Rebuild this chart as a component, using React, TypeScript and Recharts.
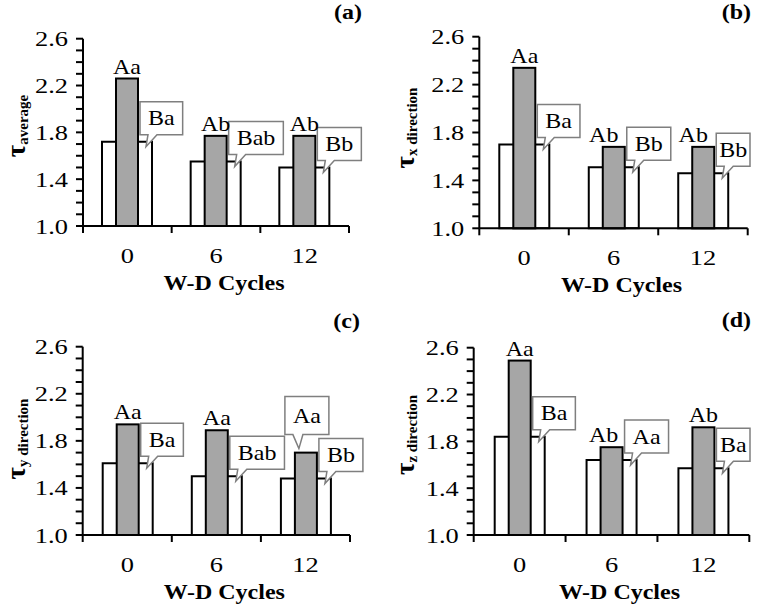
import React from 'react';
import { BarChart, Bar, XAxis, YAxis, LabelList, Label } from 'recharts';

// W-D cycle categories and y ticks (every 0.1, labels on every 0.4)
const cycles = ['0', '6', '12'];
const yTicks = [1.0, 1.1, 1.2, 1.3, 1.4, 1.5, 1.6, 1.7, 1.8, 1.9, 2.0, 2.1, 2.2, 2.3, 2.4, 2.5, 2.6];
const yMajor = [1.0, 1.4, 1.8, 2.2, 2.6];

// white bars (B) and gray bars (A)
const whiteAvg = [1.72, 1.55, 1.5];
const grayAvg = [2.26, 1.77, 1.77];
const whiteX = [1.7, 1.51, 1.46];
const grayX = [2.34, 1.68, 1.68];
const whiteY = [1.61, 1.5, 1.48];
const grayY = [1.94, 1.89, 1.7];
const whiteZ = [1.84, 1.64, 1.57];
const grayZ = [2.49, 1.75, 1.92];

// significance letters
const grayLetA = ['Aa', 'Ab', 'Ab'];
const whiteLetA = ['Ba', 'Bab', 'Bb'];
const grayLetB = ['Aa', 'Ab', 'Ab'];
const whiteLetB = ['Ba', 'Bb', 'Bb'];
const grayLetC = ['Aa', 'Aa', 'Aa'];
const whiteLetC = ['Ba', 'Bab', 'Bb'];
const grayLetD = ['Aa', 'Ab', 'Ab'];
const whiteLetD = ['Ba', 'Aa', 'Ba'];

const SERIF = 'Liberation Serif, Times New Roman, serif';
const SX = 1.2; // the original figure is a bit stretched sideways
const W = 381;
const H = 305;
const YW = 50;
const XH = 30;
const WB = 50; // white bar width
const GB = 22; // gray bar width (drawn centred inside the white bar's slot)

const charW: Record<string, number> = { A: 0.722, B: 0.667, a: 0.444, b: 0.5 };
const textW = (s: string, size: number) =>
  s.split('').reduce((t, c) => t + (charW[c] ?? 0.5), 0) * size * SX;

function SText({ x, y, size, bold, anchor, children }: any) {
  return (
    <text
      transform={`translate(${x},${y}) scale(${SX},1)`}
      x={0}
      y={0}
      textAnchor={anchor || 'middle'}
      style={{ fontFamily: SERIF, fontSize: size, fontWeight: bold ? 700 : 400 }}
      fill="#000"
    >
      {children}
    </text>
  );
}

const GrayShape = (props: any) => {
  const { x, y, width, height } = props;
  const nx = Number(x) + (Number(width) - GB) / 2;
  return <rect x={nx} y={y} width={GB} height={height} fill="#a6a6a6" stroke="#000" strokeWidth={2} />;
};

const WhiteCallout = (props: any) => {
  const { x, y, width, value } = props;
  const cx = Number(x) + Number(width) / 2;
  const top = Number(y);
  const s = String(value);
  const left = cx + 13;
  const w = Math.min(textW(s, 20) + 16, W - 12 - left);
  const h = 33;
  const bottom = top - 7;
  const boxTop = bottom - h;
  const d = `M${left},${boxTop} H${left + w} V${bottom} H${left + 17} L${left + 6},${top + 5} L${left + 8},${bottom} H${left} Z`;
  return (
    <g>
      <path d={d} fill="#fff" stroke="#7f7f7f" strokeWidth={1.5} />
      <SText x={left + w / 2} y={boxTop + h / 2 + 7} size={20}>{s}</SText>
    </g>
  );
};

const makeGrayLabel = (boxed: number, shift: number[]) => (props: any) => {
  const { x, y, width, value, index } = props;
  const cx = Number(x) + Number(width) / 2;
  const top = Number(y);
  const s = String(value);
  if (index === boxed) {
    const w = textW(s, 20) + 16;
    const h = 38;
    const left = cx - 21;
    const bottom = top - 18;
    const boxTop = bottom - h;
    const d = `M${left},${boxTop} H${left + w} V${bottom} H${left + 18} L${left + 14},${top - 4} L${left + 8},${bottom} H${left} Z`;
    return (
      <g>
        <path d={d} fill="#fff" stroke="#7f7f7f" strokeWidth={1.5} />
        <SText x={left + w / 2} y={boxTop + h / 2 + 7} size={20}>{s}</SText>
      </g>
    );
  }
  return <SText x={cx + (shift[index] || 0)} y={top - 5} size={20}>{s}</SText>;
};

const YTick = (props: any) => {
  const { x, y, payload } = props;
  const v = Number(payload.value);
  if (!yMajor.some((m) => Math.abs(m - v) < 1e-6)) return null;
  return (
    <SText x={Number(x) - 6} y={Number(y) + 7.5} size={22} anchor="end">
      {v.toFixed(1)}
    </SText>
  );
};

const makeXTick = (axisY: number, half: number) => (props: any) => {
  const { x, payload, index } = props;
  const off = payload && payload.offset ? Number(payload.offset) : half;
  const cx = Number(x);
  return (
    <g>
      <line x1={cx - off} x2={cx - off} y1={axisY} y2={axisY + 7} stroke="#000" strokeWidth={2} />
      {index === cycles.length - 1 && (
        <line x1={cx + off} x2={cx + off} y1={axisY} y2={axisY + 7} stroke="#000" strokeWidth={2} />
      )}
      <SText x={cx} y={axisY + 37} size={22}>{payload.value}</SText>
    </g>
  );
};

type PanelCfg = {
  px: number;
  py: number;
  left: number;
  right: number;
  top: number;
  bottom: number;
  white: number[];
  gray: number[];
  whiteLet: string[];
  grayLet: string[];
  sub: string;
  tag: string;
  labX: number;
  labY: number;
  tagX: number;
  tagY: number;
  boxed: number;
  shift: number[];
};

const panels: PanelCfg[] = [
  { px: 0, py: 0, left: 83, right: 349, top: 38.7, bottom: 226, white: whiteAvg, gray: grayAvg, whiteLet: whiteLetA, grayLet: grayLetA, sub: 'average', tag: '(a)', labX: 25, labY: 126, tagX: 362, tagY: 19, boxed: -1, shift: [0, 0, 0] },
  { px: 381, py: 0, left: 98.3, right: 366.7, top: 36.7, bottom: 228.3, white: whiteX, gray: grayX, whiteLet: whiteLetB, grayLet: grayLetB, sub: 'x direction', tag: '(b)', labX: 33, labY: 128, tagX: 370, tagY: 19, boxed: -1, shift: [0, -10, -10] },
  { px: 0, py: 305, left: 82.7, right: 350, top: 41.7, bottom: 230, white: whiteY, gray: grayY, whiteLet: whiteLetC, grayLet: grayLetC, sub: 'y direction', tag: '(c)', labX: 25, labY: 134, tagX: 360, tagY: 23, boxed: 2, shift: [0, 0, 0] },
  { px: 381, py: 305, left: 92.7, right: 368.3, top: 42.7, bottom: 230, white: whiteZ, gray: grayZ, whiteLet: whiteLetD, grayLet: grayLetD, sub: 'z direction', tag: '(d)', labX: 33, labY: 130, tagX: 370, tagY: 22, boxed: -1, shift: [0, -8, 0] },
];

function Panel({ cfg }: { cfg: PanelCfg }) {
  const data = cycles.map((c, i) => ({
    cycle: c,
    white: cfg.white[i],
    gray: cfg.gray[i],
    wl: cfg.whiteLet[i],
    gl: cfg.grayLet[i],
  }));
  const margin = {
    top: cfg.top,
    right: W - cfg.right,
    left: cfg.left - YW,
    bottom: H - cfg.bottom - XH,
  };
  const half = (cfg.right - cfg.left) / cycles.length / 2;
  const midX = (cfg.left + cfg.right) / 2 + 8;
  return (
    <div style={{ position: 'absolute', left: cfg.px, top: cfg.py, width: W, height: H }}>
      <BarChart width={W} height={H} data={data} margin={margin} barGap={-WB}>
        <XAxis
          dataKey="cycle"
          height={XH}
          interval={0}
          axisLine={{ stroke: '#000', strokeWidth: 2 }}
          tickLine={false}
          tick={makeXTick(cfg.bottom, half)}
        />
        <YAxis
          domain={[1, 2.6]}
          ticks={yTicks}
          interval={0}
          width={YW}
          tickSize={7}
          axisLine={{ stroke: '#000', strokeWidth: 2 }}
          tickLine={{ stroke: '#000', strokeWidth: 2 }}
          tick={YTick}
        >
          <Label
            content={() => (
              <g>
                <text
                  transform={`translate(${cfg.labX},${cfg.labY}) rotate(-90)`}
                  textAnchor="middle"
                  style={{ fontFamily: SERIF, fontWeight: 700 }}
                  fill="#000"
                >
                  <tspan fontSize={27}>τ</tspan>
                  <tspan fontSize={15} dy={3}>{cfg.sub}</tspan>
                </text>
                <SText x={cfg.tagX} y={cfg.tagY} size={20} bold anchor="end">
                  {cfg.tag}
                </SText>
                <SText x={midX} y={cfg.bottom + 64} size={20} bold>
                  W-D Cycles
                </SText>
              </g>
            )}
          />
        </YAxis>
        <Bar dataKey="white" fill="#fff" stroke="#000" strokeWidth={2} barSize={WB} isAnimationActive={false}>
          <LabelList dataKey="wl" content={WhiteCallout} />
        </Bar>
        <Bar dataKey="gray" barSize={WB} shape={GrayShape} isAnimationActive={false}>
          <LabelList dataKey="gl" content={makeGrayLabel(cfg.boxed, cfg.shift)} />
        </Bar>
      </BarChart>
    </div>
  );
}

export default function App() {
  return (
    <div style={{ position: 'absolute', left: 0, top: 0, width: 762, height: 610, background: '#fff' }}>
      {panels.map((p) => (
        <Panel key={p.tag} cfg={p} />
      ))}
    </div>
  );
}
